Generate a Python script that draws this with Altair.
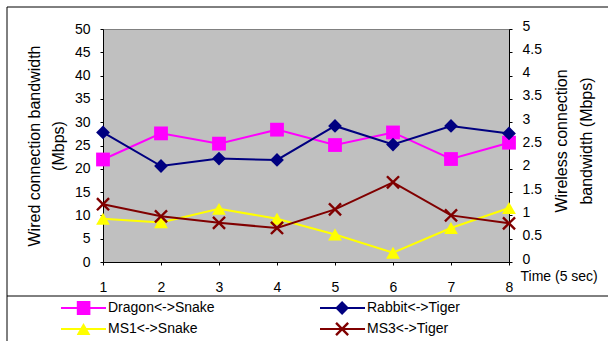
import math
import altair as alt
import pandas as pd

# Measurement intervals (5 s each)
times = [1, 2, 3, 4, 5, 6, 7, 8]

# Wired connection bandwidth (Mbps)
dragon_snake = [22.0, 27.6, 25.4, 28.4, 25.1, 27.8, 22.1, 25.6]
rabbit_tiger = [27.8, 20.6, 22.2, 21.9, 29.2, 25.2, 29.2, 27.6]

# Wireless connection bandwidth (Mbps)
ms1_snake = [0.93, 0.85, 1.14, 0.93, 0.59, 0.20, 0.73, 1.16]
ms3_tiger = [1.24, 0.98, 0.84, 0.73, 1.13, 1.71, 1.00, 0.83]

series_names = ["Dragon<->Snake", "Rabbit<->Tiger", "MS1<->Snake", "MS3<->Tiger"]
series_colors = ["#FF00FF", "#000080", "#FFFF00", "#800000"]

# Filled "X" marker outline (a plus rotated by 45 degrees), in the unit box
X_PATH = ("M1,-0.754L0.246,0L1,0.754L0.754,1L0,0.246L-0.754,1L-1,0.754"
          "L-0.246,0L-1,-0.754L-0.754,-1L0,-0.246L0.754,-1Z")
series_shapes = ["square", "diamond", "triangle-up", X_PATH]

wired = pd.DataFrame({
    "time": times * 2,
    "bw": dragon_snake + rabbit_tiger,
    "series": [series_names[0]] * 8 + [series_names[1]] * 8,
})
wireless = pd.DataFrame({
    "time": times * 2,
    "bw": ms1_snake + ms3_tiger,
    "series": [series_names[2]] * 8 + [series_names[3]] * 8,
})

FONT = "Liberation Sans"
W, H = 406, 233
MARKER = 190

color_scale = alt.Scale(domain=series_names, range=series_colors)
shape_scale = alt.Scale(domain=series_names, range=series_shapes)
# line colours keyed in reverse order so the line legend stays separate
stroke_scale = alt.Scale(domain=series_names[::-1], range=series_colors[::-1])

# Two stacked legends: line segments with labels, and the markers on top
LINE_LEN = 45
LINE_SW = 2
line_entry = LINE_LEN + LINE_SW
mark_entry = math.ceil(math.sqrt(MARKER))
LABEL_W = 106.6  # width of the longest first-column label at 14px
LEG_X, LEG_Y, COL_PAD = -43, 269, 104
common = dict(
    title=None, orient="none", columns=2, direction="horizontal",
    rowPadding=1, clipHeight=20, padding=0, labelOffset=1,
    labelFont=FONT, labelFontSize=14, labelColor="black", labelLimit=300,
)
line_legend = alt.Legend(
    legendX=LEG_X, legendY=LEG_Y, columnPadding=COL_PAD,
    symbolType="stroke", symbolSize=LINE_LEN ** 2, symbolStrokeWidth=LINE_SW,
    values=series_names, zindex=0, **common,
)
mark_x = LEG_X + (line_entry - mark_entry) / 2
marker_legend = alt.Legend(
    legendX=mark_x, legendY=LEG_Y,
    columnPadding=(LEG_X + line_entry + 1 + LABEL_W + COL_PAD + line_entry / 2)
    - (mark_x + mark_entry + 1 + mark_entry / 2),
    symbolSize=MARKER, symbolStrokeWidth=0, symbolOpacity=1,
    labelExpr="''", zindex=1, **common,
)

x_axis = alt.Axis(
    orient="bottom", values=times, format="d", title="Time (5 sec)",
    titleX=417, titleY=14, titleAlign="left", titleBaseline="middle",
    titleAnchor="start", titleAngle=0,
    titleFont=FONT, titleFontSize=14, titleFontWeight="normal", titleColor="black",
    labelFont=FONT, labelFontSize=14, labelColor="black", labelPadding=15,
    labelBaseline="top", labelAlign="center",
    tickSize=3, tickColor="black", domainColor="black", grid=False,
)
x_enc = alt.X("time:Q", scale=alt.Scale(domain=[1, 8], nice=False, zero=False), axis=x_axis)

left_axis = alt.Axis(
    values=list(range(0, 51, 5)), format="d",
    title=["Wired connection bandwidth", "(Mbps)"],
    titleX=-69, titleY=H / 2, titleAngle=270, titleAlign="center", titleBaseline="middle",
    titleLineHeight=24, titleFont=FONT, titleFontSize=16, titleFontWeight="normal",
    titleColor="black",
    labelFont=FONT, labelFontSize=14, labelColor="black", labelPadding=10,
    tickSize=3, tickColor="black", domainColor="black", grid=False,
)
right_axis = alt.Axis(
    orient="right",
    values=[i / 2 for i in range(11)], format="~g",
    title=["Wireless connection", "bandwidth (Mbps)"],
    titleX=52, titleY=H / 2 - 5, titleAngle=270, titleAlign="center", titleBaseline="middle",
    titleLineHeight=25, titleFont=FONT, titleFontSize=16, titleFontWeight="normal",
    titleColor="black",
    labelFont=FONT, labelFontSize=14, labelColor="black", labelPadding=10,
    labelOffset=-3,
    tickSize=3, tickColor="black", domainColor="black", grid=False,
)

wired_scale = alt.Scale(domain=[0, 50], nice=False)
wireless_scale = alt.Scale(domain=[0, 5], nice=False)

wired_lines = alt.Chart(wired).mark_line(strokeWidth=2).encode(
    x=x_enc,
    y=alt.Y("bw:Q", scale=wired_scale, axis=left_axis),
    stroke=alt.Stroke("series:N", scale=stroke_scale, legend=line_legend),
)
wired_points = alt.Chart(wired).mark_point(filled=True, opacity=1).encode(
    x=x_enc,
    y=alt.Y("bw:Q", scale=wired_scale, axis=left_axis),
    color=alt.Color("series:N", scale=color_scale, legend=marker_legend),
    shape=alt.Shape("series:N", scale=shape_scale, legend=marker_legend),
    size=alt.value(MARKER),
)
wireless_lines = alt.Chart(wireless).mark_line(strokeWidth=2).encode(
    x=x_enc,
    y=alt.Y("bw:Q", scale=wireless_scale, axis=right_axis),
    stroke=alt.Stroke("series:N", scale=stroke_scale, legend=None),
)
wireless_points = alt.Chart(wireless).mark_point(filled=True, opacity=1).encode(
    x=x_enc,
    y=alt.Y("bw:Q", scale=wireless_scale, axis=right_axis),
    color=alt.Color("series:N", scale=color_scale, legend=None),
    shape=alt.Shape("series:N", scale=shape_scale, legend=None),
    size=alt.value(MARKER),
)

# Chart-area frame and the line above the legend box
frame = alt.Chart(pd.DataFrame({"k": [0]})).mark_rect(
    fill=None, stroke="black", strokeWidth=1
).encode(
    x=alt.value(-96), x2=alt.value(620), y=alt.value(-22), y2=alt.value(400)
)
divider = alt.Chart(pd.DataFrame({"k": [0]})).mark_rule(
    stroke="black", strokeWidth=1
).encode(
    x=alt.value(-96), x2=alt.value(620), y=alt.value(267)
)

wired_layer = alt.layer(wired_lines, wired_points)
wireless_layer = alt.layer(wireless_lines, wireless_points)

chart = alt.layer(
    frame, divider, wired_layer, wireless_layer
).resolve_scale(
    y="independent"
).properties(
    width=W, height=H,
    padding={"left": 103, "top": 29, "right": 608 - 103 - W, "bottom": 341 - 29 - H},
    autosize=alt.AutoSizeParams(type="none"),
    background="white",
).configure_view(
    fill="#C0C0C0", stroke="#808080", strokeWidth=1
)

chart.save("out.html", embed_options={"renderer": "svg", "actions": False})
